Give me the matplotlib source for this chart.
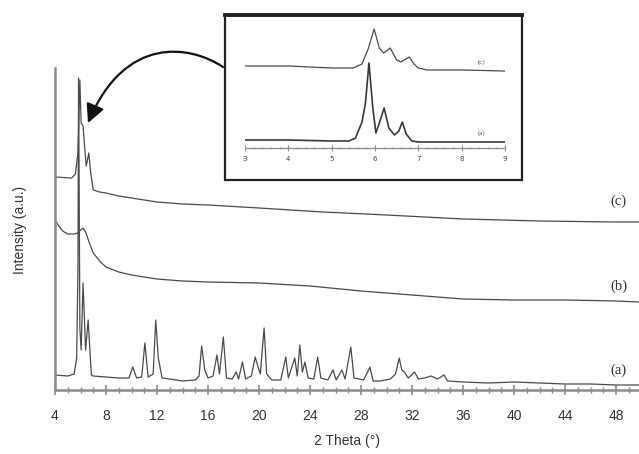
import numpy as np
import matplotlib
matplotlib.use('Agg')
import matplotlib.pyplot as plt
from matplotlib.patches import FancyArrowPatch, Rectangle
from matplotlib.path import Path

# main pattern (a): crystalline sample, 2 theta vs intensity (a.u.)
a_x = [4.0, 5.0, 5.5, 5.7, 5.8, 5.85, 5.95, 6.05, 6.2, 6.4, 6.6, 6.85,
       7.0, 8.0, 9.0, 9.8, 10.1, 10.4, 10.8, 11.05, 11.3, 11.7, 11.9, 12.1,
       12.4, 13.0, 14.0, 15.0, 15.3, 15.5, 15.75, 16.0, 16.4, 16.7, 16.9,
       17.2, 17.45, 17.9, 18.2, 18.4, 18.7, 18.95, 19.4, 19.7, 19.9, 20.1,
       20.4, 20.6, 21.0, 21.7, 22.1, 22.3, 22.8, 23.0, 23.2, 23.4, 23.6,
       23.85, 24.3, 24.6, 24.85, 25.4, 25.8, 26.05, 26.5, 26.75, 27.2, 27.45,
       28.2, 28.7, 28.95, 29.5, 30.3, 30.7, 31.0, 31.2, 31.4, 31.7, 32.2,
       32.5, 33.0, 33.5, 34.0, 34.5, 34.8, 36.0, 38.0, 40.0, 42.0, 44.0,
       46.0, 48.0, 49.8]
a_y = [13, 12, 14, 30, 120, 310, 60, 38, 105, 38, 68, 13,
       12, 11, 10, 10, 21, 10, 11, 45, 11, 14, 68, 30,
       10, 9, 7, 8, 12, 42, 18, 10, 12, 33, 14,
       51, 10, 9, 16, 9, 26, 9, 12, 31, 22, 14,
       60, 14, 8, 8, 31, 10, 30, 12, 43, 16, 26,
       10, 9, 31, 10, 8, 18, 8, 18, 9, 41, 10,
       8, 21, 7, 7, 9, 14, 30, 18, 16, 10, 16,
       9, 10, 12, 9, 13, 7, 6, 5, 6, 5, 4,
       4, 3, 3]

# pattern (b)
b_x = [4.0, 4.3, 4.6, 5.0, 5.5, 5.8, 6.0, 6.2, 6.4, 6.7, 7.0, 7.5, 8.0,
       9.0, 10.0, 12.0, 14.0, 16.0, 20.0, 24.0, 28.0, 32.0, 36.0, 40.0,
       44.0, 48.0, 49.8]
b_y = [168, 162, 157, 154, 154, 155, 158, 160, 156, 145, 135, 127, 121,
       116, 113, 109, 107, 106, 105, 102, 97, 93, 89, 88,
       88, 87, 86]

# pattern (c)
c_x = [4.0, 5.3, 5.6, 5.8, 5.95, 6.05, 6.2, 6.3, 6.45, 6.65, 6.8, 7.0,
       7.5, 8.0, 9.0, 10.0, 12.0, 14.0, 16.0, 20.0, 25.0, 30.0, 36.0,
       42.0, 48.0, 49.8]
c_y = [211, 210, 214, 235, 308, 265, 262, 245, 222, 235, 215, 198,
       196, 195, 192, 190, 186, 184, 183, 180, 176, 173, 169,
       167, 166, 166]

# inset, 3-9 degrees
ia_x = [3.0, 4.0, 5.0, 5.4, 5.55, 5.7, 5.78, 5.86, 5.95, 6.02, 6.1, 6.21,
        6.32, 6.45, 6.55, 6.63, 6.72, 6.85, 7.0, 8.0, 9.0]
ia_y = [8, 8, 7, 7, 10, 26, 45, 85, 40, 15, 25, 40,
        20, 13, 17, 26, 14, 7, 6, 6, 6]
ic_x = [3.0, 4.0, 4.5, 5.0, 5.5, 5.7, 5.85, 5.98, 6.1, 6.2, 6.35, 6.5,
        6.6, 6.79, 6.9, 7.0, 7.2, 8.0, 9.0]
ic_y = [82, 82, 81, 80, 80, 84, 100, 119, 100, 95, 100, 88,
        86, 91, 84, 80, 78, 78, 77]

W, H = 639, 454
fig = plt.figure(figsize=(W / 100, H / 100), dpi=100)

def px(x, y):
    return x / W, 1 - y / H

line_col = '#4a4a4a'
spine_col = '#8c8c8c'

# ------ main axes ------
ax = fig.add_axes([55 / W, 64 / H, 584 / W, 322 / H])
ax.plot(a_x, a_y, color=line_col, lw=0.9)
ax.plot(b_x, b_y, color=line_col, lw=0.9)
ax.plot(c_x, c_y, color=line_col, lw=0.9)
ax.set_xlim(4, 49.8)
ax.set_ylim(-2, 320)
for s in ['top', 'right']:
    ax.spines[s].set_visible(False)
for s in ['left', 'bottom']:
    ax.spines[s].set_color(spine_col)
    ax.spines[s].set_linewidth(1.8)
ax.set_yticks([])
ax.set_xticks(np.arange(4, 49, 4))
ax.set_xticks(np.arange(4, 50, 1), minor=True)
ax.tick_params(axis='x', which='major', direction='inout', length=7,
               width=1.2, color=spine_col, pad=10, labelsize=10,
               labelcolor='#333333')
ax.tick_params(axis='x', which='minor', direction='inout', length=4,
               width=1.0, color=spine_col)
for lab in ax.get_xticklabels():
    lab.set_family('Liberation Sans')

serif = dict(family='Liberation Serif', fontsize=10.5, color='#333333',
             ha='center', va='center')
ax.text(48.2, 187, '(c)', **serif)
ax.text(48.2, 102, '(b)', **serif)
ax.text(48.2, 18, '(a)', **serif)

fig.text(*px(20, 230), 'Intensity (a.u.)', rotation=90, ha='center',
         va='center', fontsize=10, family='Liberation Sans', color='#333333')
fig.text(*px(347, 441), '2 Theta (°)', ha='center', va='center',
         fontsize=10, family='Liberation Sans', color='#333333')

# ------ inset ------
box = Rectangle(px(225, 180), 297 / W, 165 / H, transform=fig.transFigure,
                fill=False, edgecolor='#222222', lw=1.6)
fig.patches.append(box)
fig.add_artist(plt.Line2D([px(225, 15)[0], px(522, 15)[0]],
                          [px(225, 15)[1], px(522, 15)[1]],
                          transform=fig.transFigure, color='#222222', lw=2.8))

axi = fig.add_axes([245 / W, (H - 148) / H, 260 / W, 128 / H])
axi.patch.set_alpha(0)
axi.plot(ia_x, ia_y, color='#3a3a3a', lw=1.2)
axi.plot(ic_x, ic_y, color=line_col, lw=0.9)
axi.set_xlim(3, 9)
axi.set_ylim(0, 128)
for s in ['top', 'right', 'left']:
    axi.spines[s].set_visible(False)
axi.spines['bottom'].set_color(spine_col)
axi.spines['bottom'].set_linewidth(0.9)
axi.set_yticks([])
axi.set_xticks(np.arange(3, 10, 1))
axi.set_xticks(np.arange(3, 9.01, 0.2), minor=True)
axi.tick_params(axis='x', which='major', direction='inout', length=4,
                width=0.8, color=spine_col, pad=4, labelsize=5,
                labelcolor='#444444')
axi.tick_params(axis='x', which='minor', direction='inout', length=2,
                width=0.6, color=spine_col)
small = dict(family='Liberation Serif', fontsize=5, color='#444444',
             ha='center', va='center')
axi.text(8.47, 86, '(c)', **small)
axi.text(8.47, 15, '(a)', **small)

# ------ curved arrow from inset to peak ------
verts = [px(223, 67), px(190, 45), px(125, 35), px(88, 123)]
codes = [Path.MOVETO, Path.CURVE4, Path.CURVE4, Path.CURVE4]
arrow = FancyArrowPatch(path=Path(verts, codes), transform=fig.transFigure,
                        arrowstyle='-|>,head_length=0.8,head_width=0.4',
                        mutation_scale=14, color='#111111', lw=1.6)
fig.patches.append(arrow)

fig.savefig('out.png', dpi=100)
